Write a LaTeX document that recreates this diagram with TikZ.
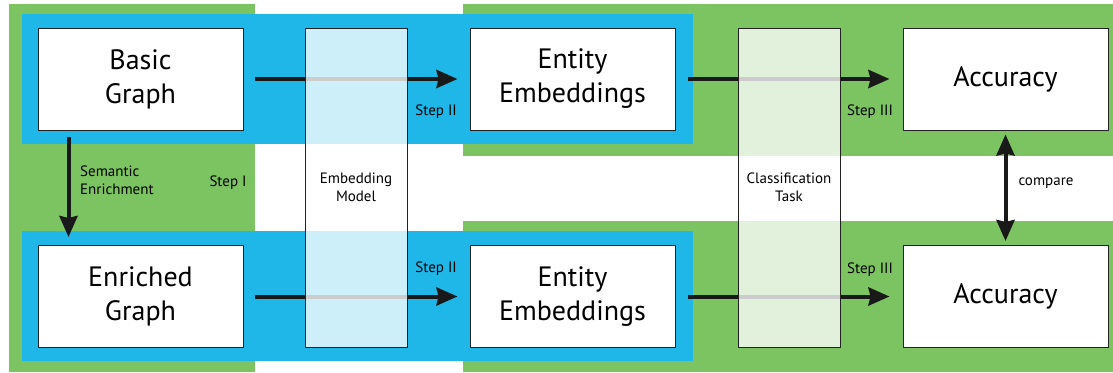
\documentclass[tikz,border=0pt]{standalone}
\usepackage{fontspec}
\setmainfont{PT Sans}
\usetikzlibrary{arrows.meta}
\definecolor{bggreen}{HTML}{7CC361}
\definecolor{bgblue}{HTML}{1FB7E8}
\definecolor{edge}{HTML}{222222}
\tikzset{
  box/.style={draw=edge, line width=1pt, fill=white, minimum width=205pt, minimum height=102pt,
    align=center, font=\fontsize{28}{34}\selectfont, inner sep=0pt},
  column/.style={draw=edge, line width=1pt, fill=white, fill opacity=0.78, text opacity=1,
    minimum width=102pt, minimum height=319pt, align=center, font=\fontsize{15}{18}\selectfont, inner sep=0pt},
  lbl/.style={font=\fontsize{15}{18}\selectfont, inner sep=0pt, align=left},
  flow/.style={line width=4pt, draw=black!90, -{Stealth[inset=2pt, length=21pt, width=18pt]}},
  both/.style={line width=4pt, draw=black!90, {Stealth[inset=2pt, length=21pt, width=18pt]}-{Stealth[inset=2pt, length=21pt, width=18pt]}}
}
\begin{document}
\begin{tikzpicture}[x=1pt, y=-1pt]
\useasboundingbox (0,0) rectangle (1113,372);
\fill[white] (0,0) rectangle (1113,372);
% backgrounds
\fill[bggreen] (9,4) rectangle (255,372);
\fill[bggreen] (463,4) rectangle (1113,156);
\fill[bggreen] (463,221) rectangle (1113,372);
\fill[bgblue] (22,14) rectangle (693,144);
\fill[bgblue] (22,231) rectangle (693,361);
% boxes
\node[box] (basic) at (140.5,79) {Basic\\Graph};
\node[box] (enriched) at (140.5,296.5) {Enriched\\Graph};
\node[box] (ent1) at (572.5,79) {Entity\\Embeddings};
\node[box] (ent2) at (572.5,296.5) {Entity\\Embeddings};
\node[box] (acc1) at (1005.5,79) {Accuracy};
\node[box] (acc2) at (1005.5,296.5) {Accuracy};
% arrows (under the columns)
\draw[flow, shorten <=11pt, shorten >=12pt] (basic) -- (ent1);
\draw[flow, shorten <=11pt, shorten >=12pt] (enriched) -- (ent2);
\draw[flow, shorten <=12pt, shorten >=13pt] (ent1) -- (acc1);
\draw[flow, shorten <=12pt, shorten >=13pt] (ent2) -- (acc2);
\draw[flow, shorten <=6pt, shorten >=8pt] ([xshift=31pt]basic.south west) -- ([xshift=31pt]enriched.north west);
\draw[both, shorten <=4pt, shorten >=4pt] (acc1) -- (acc2);
% columns
\node[column] (embm) at (356,187.5) {Embedding\\Model};
\node[column] (clst) at (789,187.5) {Classification\\Task};
% labels
\node[lbl, anchor=east] (s2a) at (457,112) {Step II};
\node[lbl, anchor=east] (s2b) at (457,269) {Step II};
\node[lbl] (s3a) at (870,112) {Step III};
\node[lbl] (s3b) at (870,270) {Step III};
\node[lbl] (s1) at (228,183) {Step I};
\node[lbl, anchor=west] (sem) at (80,180) {Semantic\\Enrichment};
\node[lbl] (cmp) at (1046,183) {compare};
\end{tikzpicture}
\end{document}
